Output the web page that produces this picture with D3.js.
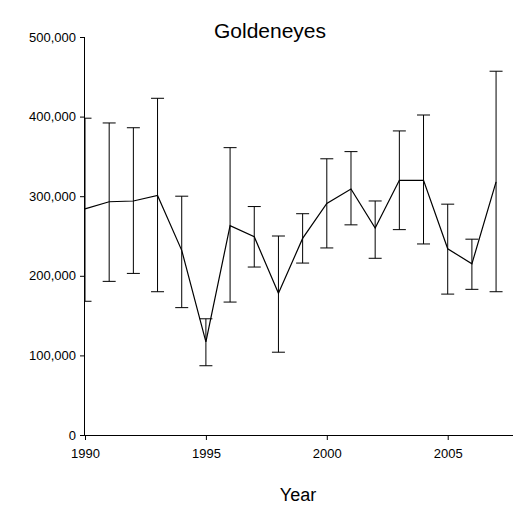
<!DOCTYPE html>
<html><head><meta charset="utf-8">
<script src="https://cdn.jsdelivr.net/npm/d3@7"></script>
<style>body{margin:0;background:#fff}text{font-family:"Liberation Sans",Arial,sans-serif}</style>
</head><body><div class="canvas"></div>
<script>
// values
const years = [1990,1991,1992,1993,1994,1995,1996,1997,1998,1999,2000,2001,2002,2003,2004,2005,2006,2007]
const estimate = [284,293,294,301,232,117,263,249,178,247,291,309,260,320,320,234,215,318].map(v => v*1000)
const upper = [398,392,386,423,300,146,361,287,250,278,347,356,294,382,402,290,246,457].map(v => v*1000)
const lower = [168,193,203,180,160,87,167,211,104,216,235,264,222,258,240,177,183,180].map(v => v*1000)
const yTicks = [0,100000,200000,300000,400000,500000]
const xTicks = [1990,1995,2000,2005]

const dims = { width: 513, height: 506 }
const svg = d3.select('.canvas').append('svg')
  .attr('width', dims.width).attr('height', dims.height)

const x = d3.scaleLinear().domain([1990, 2007.7]).range([85, 513])
const y = d3.scaleLinear().domain([0, 500000]).range([435, 37])

svg.append('g').attr('transform', 'translate(85,0)')
  .call(d3.axisLeft(y).tickValues(yTicks).tickFormat(d3.format(',')).tickSize(5).tickPadding(4))
  .call(g => g.selectAll('text').attr('font-size', 13).attr('fill', '#000'))
  .call(g => g.select('.domain').attr('d', 'M-0.5,435V37'))
svg.append('g').attr('transform', 'translate(0,435)')
  .call(d3.axisBottom(x).tickValues(xTicks).tickFormat(d3.format('d')).tickSize(5).tickPadding(9))
  .call(g => g.selectAll('text').attr('font-size', 13).attr('fill', '#000'))
  .call(g => g.select('.domain').attr('d', 'M85,0.5H513'))

// error bars
const cap = 6.5
const bars = svg.append('g').attr('stroke', '#000').attr('fill', 'none')
years.forEach((yr, i) => {
  const cx = x(yr)
  const left = i === 0 ? cx : cx - cap
  bars.append('path').attr('d',
    `M${cx},${y(upper[i])}V${y(lower[i])}` +
    `M${left},${y(upper[i])}H${cx + cap}` +
    `M${left},${y(lower[i])}H${cx + cap}`)
})

svg.append('path').datum(years)
  .attr('fill', 'none').attr('stroke', '#000').attr('stroke-width', 1.2)
  .attr('d', d3.line().x(d => x(d)).y((d, i) => y(estimate[i])))

svg.append('text').attr('x', 270).attr('y', 38).attr('text-anchor', 'middle')
  .attr('font-size', 21).text('Goldeneyes')
svg.append('text').attr('x', 298).attr('y', 501).attr('text-anchor', 'middle')
  .attr('font-size', 18).text('Year')
</script></body></html>
